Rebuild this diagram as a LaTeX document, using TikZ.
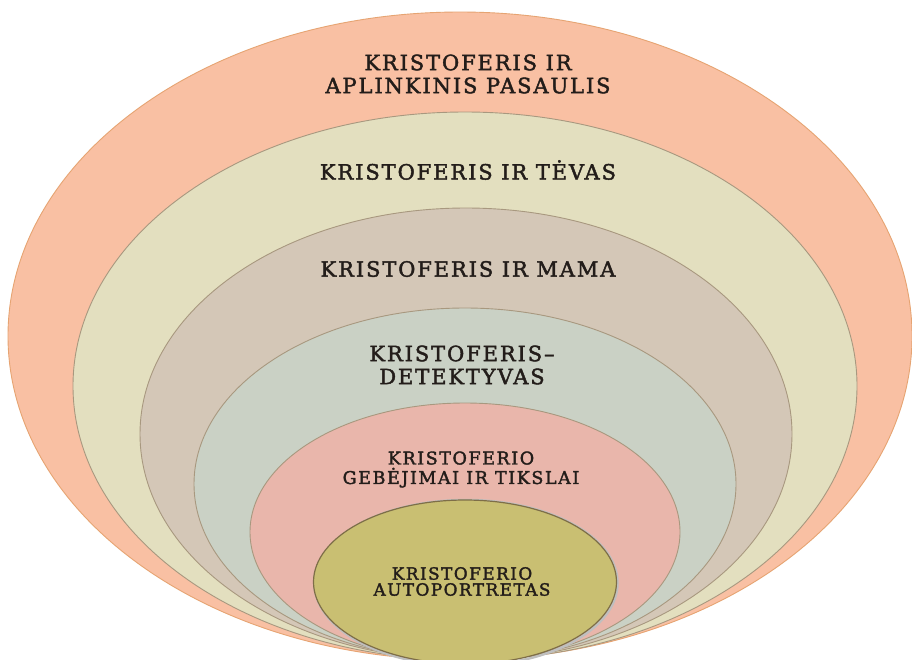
\documentclass[tikz,border=0pt]{standalone}
\usepackage{fontspec}
\setmainfont{DejaVu Serif}[LetterSpace=9, FakeBold=2]
\definecolor{cOne}{HTML}{F9C0A3}
\definecolor{cOneD}{HTML}{E6A472}
\definecolor{cTwo}{HTML}{E3DFBF}
\definecolor{cThree}{HTML}{D4C7B7}
\definecolor{cFour}{HTML}{CAD1C5}
\definecolor{cFive}{HTML}{E9B6AB}
\definecolor{cSix}{HTML}{C9BF72}
\definecolor{cSixD}{HTML}{7E6E48}
\definecolor{ringline}{HTML}{A8987F}
\definecolor{txt}{HTML}{231D1A}
\tikzset{
  ring/.style={draw=ringline, line width=0.9pt},
  lab/.style={align=center, text=txt, inner sep=0pt},
  big/.style={lab, font=\fontsize{21}{23}\selectfont},
  mid/.style={lab, font=\fontsize{17.5}{19.5}\selectfont},
  small/.style={lab, font=\fontsize{16.8}{16}\selectfont}
}
\begin{document}
\begin{tikzpicture}[x=1pt,y=-1pt]
\useasboundingbox (0,0) rectangle (912,659);
\fill[white] (0,0) rectangle (912,659);
\begin{scope}
\clip (0,0) rectangle (912,659);
\draw[ring, fill=cOne, draw=cOneD] (460,336) ellipse [x radius=452, y radius=324];
\draw[ring, fill=cTwo] (465,386) ellipse [x radius=392, y radius=274];
\draw[ring, fill=cThree] (466,434) ellipse [x radius=326, y radius=226];
\draw[ring, fill=cFour] (465,484) ellipse [x radius=271, y radius=176];
\draw[ring, fill=cFive] (465,532) ellipse [x radius=215, y radius=129];
\draw[line width=2.5pt, draw=black!25] (466,583) ellipse [x radius=151.5, y radius=83];
\draw[line width=1.2pt, fill=cSix, draw=cSixD] (465,582) ellipse [x radius=151.5, y radius=82];
\end{scope}
\node[big] (t1) at (468,74) {KRISTOFERIS IR\\APLINKINIS PASAULIS};
\node[big] (t2) at (468,170) {KRISTOFERIS IR TĖVAS};
\node[big] (t3) at (468,269) {KRISTOFERIS IR MAMA};
\node[big] (t4) at (462,365) {KRISTOFERIS–\\DETEKTYVAS};
\node[mid] (t5) at (461,469.5) {KRISTOFERIO\\GEBĖJIMAI IR TIKSLAI};
\node[small] (t6) at (462,581.5) {KRISTOFERIO\\AUTOPORTRETAS};
\end{tikzpicture}
\end{document}
